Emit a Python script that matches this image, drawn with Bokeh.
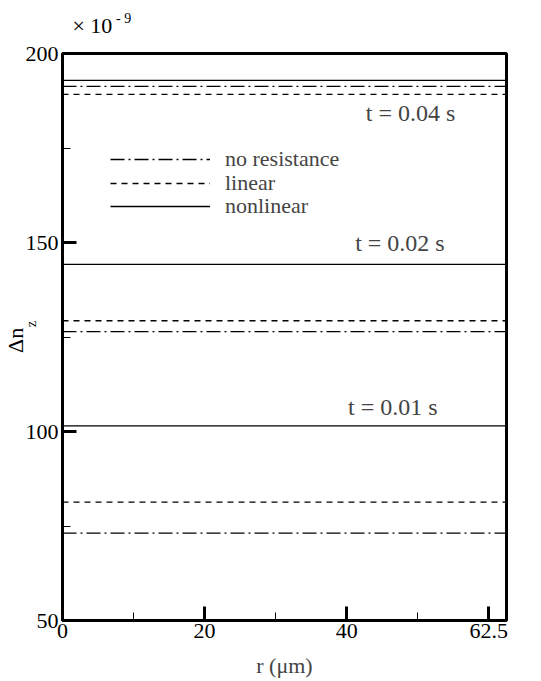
from bokeh.plotting import figure
from bokeh.models import FixedTicker, Label, Legend, LegendItem, Range1d, LinearAxis
from bokeh.embed import file_html
from bokeh.resources import INLINE

# ---- data ----
times = ["t = 0.01 s", "t = 0.02 s", "t = 0.04 s"]
no_resistance = [73.1, 126.4, 191.3]
linear = [81.3, 129.3, 189.2]
nonlinear = [101.5, 144.2, 192.9]
r_span = [0, 62.5]
time_label_x = [46.5, 47.5, 49.0]
time_label_y = [106.4, 149.8, 184.2]
x_ticks = [0, 20, 40, 60]
x_minor = [10, 30, 50]
y_ticks = [50, 100, 150, 200]
y_minor = [75, 125, 175]

FONT = "Liberation Serif"

p = figure(width=541, height=681, output_backend="svg", toolbar_location=None,
           x_range=Range1d(0, 62.5), y_range=Range1d(50, 200),
           min_border_left=62, min_border_right=35, min_border_top=53, min_border_bottom=61)
p.grid.visible = False
p.background_fill_color = "white"
p.border_fill_color = "white"
p.outline_line_color = "black"
p.outline_line_width = 3

for ax in (p.xaxis[0], p.yaxis[0]):
    ax.axis_line_width = 3
    ax.major_tick_in = 14
    ax.major_tick_out = 0
    ax.major_tick_line_width = 3
    ax.minor_tick_in = 8
    ax.minor_tick_out = 0
    ax.minor_tick_line_width = 1
    ax.major_label_text_font = FONT
    ax.major_label_text_font_size = "22px"
    ax.major_label_text_color = "black"

p.xaxis.ticker = FixedTicker(ticks=x_ticks, minor_ticks=x_minor)
p.xaxis.major_label_overrides = {60: "62.5"}
p.xaxis.major_label_standoff = 3
p.xaxis.axis_label = "r (\u03bcm)"
p.xaxis.axis_label_text_font = FONT
p.xaxis.axis_label_text_font_size = "22px"
p.xaxis.axis_label_text_font_style = "normal"
p.xaxis.axis_label_standoff = 12

p.yaxis.ticker = FixedTicker(ticks=y_ticks, minor_ticks=y_minor)
p.yaxis.major_label_standoff = 4


def text_axis(pos, text, size, standoff, side):
    """An axis with no line and no ticks that only carries one piece of text."""
    ax = LinearAxis(ticker=FixedTicker(ticks=[pos], minor_ticks=[]),
                    major_label_overrides={pos: text},
                    axis_line_color=None, major_tick_line_color=None,
                    minor_tick_line_color=None, major_tick_in=0, major_tick_out=0,
                    minor_tick_in=0, minor_tick_out=0,
                    major_label_standoff=standoff,
                    major_label_text_font=FONT, major_label_text_font_size=size,
                    major_label_text_color="black")
    if side == "left":
        ax.major_label_orientation = "vertical"
    p.add_layout(ax, side)
    return ax


# multiplier "× 10^-9" above the frame
text_axis(4.2, "\u00d7 10", "22px", 16, "above")
text_axis(8.6, "- 9", "14px", -16, "above")
# y-axis label "Δn_z"
text_axis(128.5, "z", "14px", -17, "left")
text_axis(124.1, "\u0394n", "22px", -7, "left")

styles = [("no resistance", no_resistance, "14 4 2 4"),
          ("linear", linear, "6 5"),
          ("nonlinear", nonlinear, "solid")]
legend_bottoms = [448, 424, 401]
for (name, vals, dash), lb in zip(styles, legend_bottoms):
    r = p.multi_line(xs=[r_span for _ in vals], ys=[[v, v] for v in vals],
                     line_color="black", line_width=1.3, line_dash=dash)
    lg = Legend(items=[LegendItem(label=name, renderers=[r])], location=(48, lb),
                glyph_width=100, glyph_height=20, label_standoff=15, spacing=0,
                padding=0, margin=0,
                label_text_font=FONT, label_text_font_size="22px",
                background_fill_alpha=0, border_line_alpha=0)
    p.add_layout(lg)

for txt, lx, ly in zip(times, time_label_x, time_label_y):
    p.add_layout(Label(x=lx, y=ly, text=txt, text_font=FONT, text_font_size="24px",
                       text_align="center", text_baseline="middle"))

open("out.html", "w").write(file_html(p, INLINE))
